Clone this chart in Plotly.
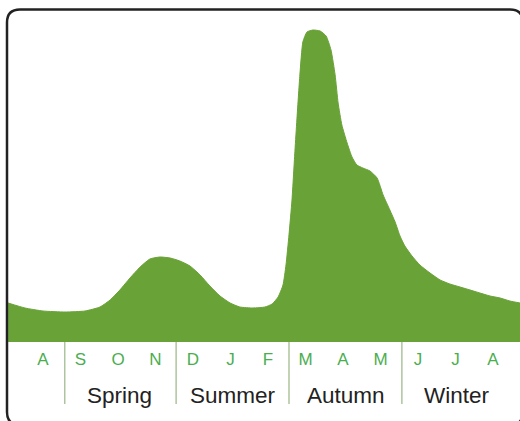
import plotly.graph_objects as go

# Position through the year (month index, 0 = August) and relative level
month_pos = [-0.93, -0.48, 0.0, 0.59, 1.12, 1.52, 1.79, 2.05, 2.32, 2.59, 2.85, 3.12,
             3.39, 3.65, 3.92, 4.19, 4.45, 4.72, 4.99, 5.25, 5.6, 5.92, 6.11, 6.27,
             6.4, 6.48, 6.56, 6.64, 6.72, 6.77, 6.85, 6.93, 7.04, 7.2, 7.39, 7.55,
             7.68, 7.79, 7.87, 7.97, 8.11, 8.24, 8.37, 8.53, 8.72, 8.91, 9.07, 9.25,
             9.39, 9.52, 9.65, 9.84, 10.05, 10.32, 10.59, 10.85, 11.12, 11.39, 11.65,
             11.92, 12.19, 12.45, 12.72]
level = [39, 34, 31, 30, 31, 35, 42, 52, 64, 75, 83, 85,
         84, 81, 76, 67, 56, 46, 39, 35, 34, 35, 38, 45,
         57, 77, 107, 142, 192, 222, 267, 300, 310, 312, 311, 306,
         292, 267, 239, 217, 199, 185, 177, 174, 171, 164, 147, 132,
         120, 106, 96, 86, 77, 69, 62, 58, 55, 52, 49,
         46, 44, 41, 39]

month_labels = ["A", "S", "O", "N", "D", "J", "F", "M", "A", "M", "J", "J", "A"]
seasons = ["Spring", "Summer", "Autumn", "Winter"]
season_centers = [2.05, 5.07, 8.08, 11.04]
season_dividers = [0.58, 3.55, 6.56, 9.57]

W, H = 520, 421
ML, MR, MT, MB = 8, 0, 12, 79
PW = W - ML - MR
PH = H - MT - MB

def px(x):
    return (x - ML) / PW

def py(y):
    return (H - MB - y) / PH

fig = go.Figure()
fig.add_trace(go.Scatter(
    x=month_pos, y=level, mode="lines",
    line=dict(shape="spline", smoothing=0.5, color="#69a237", width=1),
    fill="tozeroy", fillcolor="#69a237", hoverinfo="skip", showlegend=False,
))

shapes = []
for d in season_dividers:
    shapes.append(dict(type="line", xref="x", yref="paper", x0=d, x1=d,
                       y0=py(342), y1=py(404),
                       line=dict(color="#aec49e", width=1.5)))

# rounded frame
L, T, R, B, r = 7, 9.5, 523, 425, 13
path = (f"M {px(L)},{py(T + r)} Q {px(L)},{py(T)} {px(L + r)},{py(T)} "
        f"L {px(R - r)},{py(T)} Q {px(R)},{py(T)} {px(R)},{py(T + r)} "
        f"L {px(R)},{py(B - r)} Q {px(R)},{py(B)} {px(R - r)},{py(B)} "
        f"L {px(L + r)},{py(B)} Q {px(L)},{py(B)} {px(L)},{py(B - r)} Z")
shapes.append(dict(type="path", xref="paper", yref="paper", path=path,
                   line=dict(color="#222222", width=2.5), layer="above"))

annotations = []
for s, c in zip(seasons, season_centers):
    annotations.append(dict(x=c, y=py(395), xref="x", yref="paper", text=s,
                            showarrow=False, xanchor="center", yanchor="middle",
                            font=dict(family="Liberation Sans, Arial, sans-serif",
                                      size=22.5, color="#222222")))

fig.update_layout(
    width=W, height=H,
    margin=dict(l=ML, r=MR, t=MT, b=MB),
    paper_bgcolor="white", plot_bgcolor="white",
    xaxis=dict(range=[-0.933, 12.72], tickmode="array",
               tickvals=list(range(len(month_labels))), ticktext=month_labels,
               showgrid=False, zeroline=False, showline=False,
               ticks="outside", ticklen=2, tickcolor="rgba(0,0,0,0)",
               tickfont=dict(family="Liberation Sans, Arial, sans-serif",
                             size=17, color="#4aae4f"),
               fixedrange=True),
    yaxis=dict(range=[0, PH], showgrid=False, zeroline=False, showline=False,
               showticklabels=False, fixedrange=True),
    shapes=shapes, annotations=annotations,
    showlegend=False,
)

fig.write_html("out.html", config={"displayModeBar": False},
               post_script="document.body.style.margin='0';document.body.style.overflow='hidden';")
